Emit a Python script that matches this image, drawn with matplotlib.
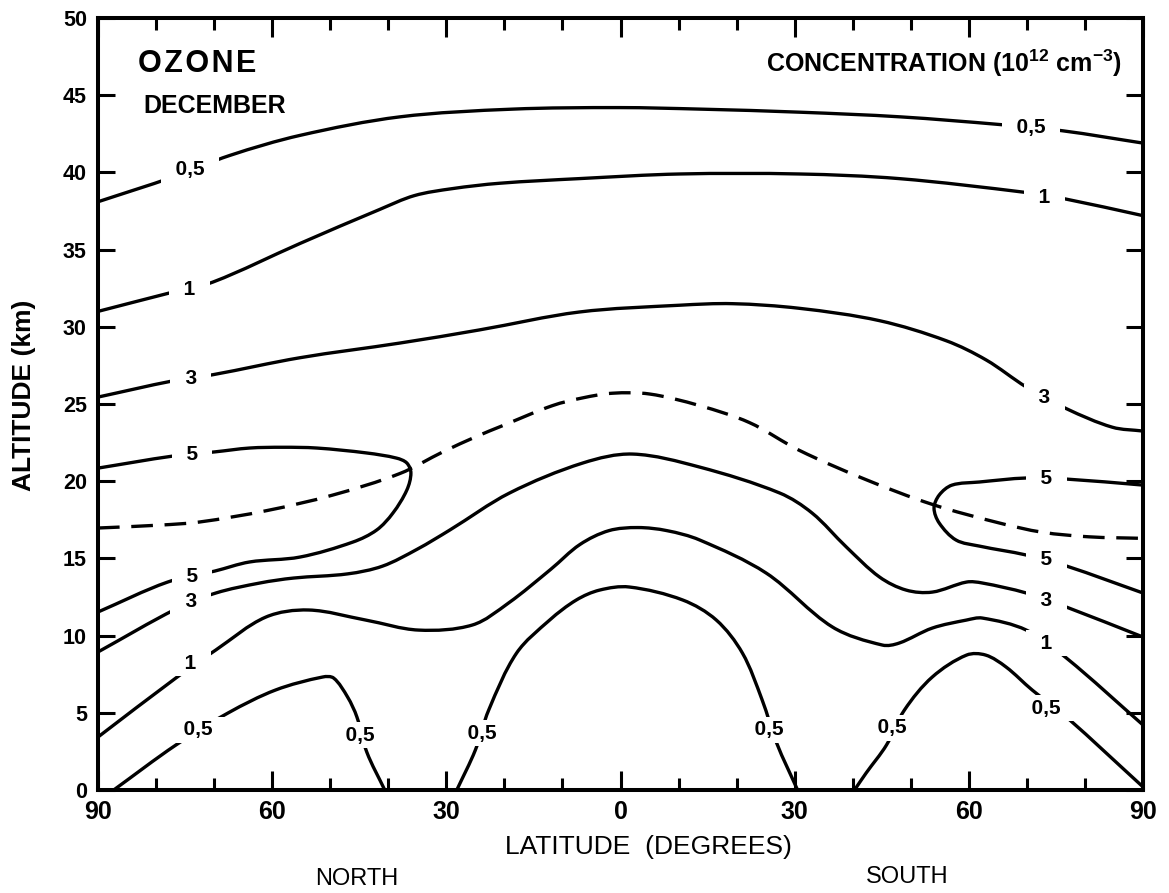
import numpy as np
import matplotlib
matplotlib.use("Agg")
import matplotlib.pyplot as plt
from matplotlib.path import Path
from matplotlib.patches import PathPatch

# Latitude axis runs from 90 N (left, -90) through the equator to 90 S (right, +90)
# Altitude in km. Each isoline is a traced curve of ozone concentration (1e12 cm^-3).

C05_TOP_LAT = [-90, -77.1, -67.3, -55.2, -38.0, -18.6, -0.2, 13.8, 31.0, 48.2, 65.4, 76.1, 90]
C05_TOP_ALT = [38.1, 39.7, 41.1, 42.4, 43.6, 44.1, 44.2, 44.1, 43.9, 43.6, 43.1, 42.7, 41.9]

C1_TOP_LAT = [-90, -77.1, -70.2, -55.2, -41.5, -35.5, -29.0, -20.8, -7.1, 10.2, 30.8, 48.0, 69.9,
              76.4, 90]
C1_TOP_ALT = [31.0, 32.25, 32.9, 35.4, 37.6, 38.5, 38.95, 39.3, 39.6, 39.9, 39.9, 39.6, 38.7,
              38.3, 37.2]

C3_TOP_LAT = [-90, -77.1, -70.2, -55.2, -38.0, -24.3, -7.1, 10.2, 19.3, 30.8, 44.6, 56.1, 63.0,
              69.9, 76.8, 84.7, 90]
C3_TOP_ALT = [25.45, 26.5, 26.9, 28.0, 28.95, 29.8, 30.96, 31.4, 31.5, 31.2, 30.4, 29.1, 27.85,
              26.1, 24.7, 23.5, 23.25]

TROPO_LAT = [-90, -79.3, -72.5, -60.9, -49.6, -38.0, -30.6, -24.8, -20.3, -11.7, -6.5, -1.4, 5.0,
             13.6, 22.2, 30.8, 42.3, 53.7, 65.2, 72.6, 80.7, 90]
TROPO_ALT = [16.97, 17.16, 17.36, 18.1, 19.1, 20.5, 21.9, 22.9, 23.6, 24.9, 25.4, 25.7, 25.65,
             24.9, 23.8, 22.0, 20.1, 18.5, 17.3, 16.7, 16.4, 16.3]

C5_NORTH_LAT = [-90, -78.0, -69.9, -63.9, -55.2, -46.1, -42.0, -39.2, -36.8, -36.1, -36.8, -38.6,
                -43.7, -52.3, -58.2, -63.9, -69.9, -77.1, -90]
C5_NORTH_ALT = [11.53, 13.47, 14.18, 14.77, 15.09, 16.06, 16.84, 17.94, 19.43, 20.53, 21.18, 21.5,
                21.83, 22.15, 22.2, 22.15, 21.9, 21.63, 20.85]

C5_SOUTH_LAT = [90, 76.8, 69.9, 61.8, 57.1, 54.9, 54.0, 54.9, 57.8, 61.8, 69.9, 76.8, 90]
C5_SOUTH_ALT = [19.75, 20.14, 20.21, 19.95, 19.75, 19.11, 18.26, 17.29, 16.19, 15.8, 15.22, 14.51, 12.76]

C3_LOW_LAT = [-90, -76.6, -69.7, -62.1, -56.3, -47.0, -41.0, -35.0, -29.4, -19.1, -6.5, 2.1, 13.6,
              27.4, 33.0, 38.9, 44.6, 49.2, 53.7, 59.6, 62.3, 69.9, 76.8, 90]
C3_LOW_ALT = [8.94, 11.72, 12.76, 13.41, 13.73, 14.0, 14.5, 15.6, 16.84, 19.24, 21.18, 21.76, 20.92,
              19.24, 17.94, 15.74, 13.80, 12.95, 12.82, 13.47, 13.41, 12.76, 11.85, 9.91]

C1_LOW_LAT = [-90, -76.6, -69.7, -61.1, -53.7, -43.9, -34.8, -25.5, -19.3, -12.0, -7.0, -2.0, 3.0,
              8.0, 13.6, 25.1, 36.5, 45.1, 48.0, 53.7, 59.6, 62.3, 69.9, 76.8, 90]
C1_LOW_ALT = [3.43, 7.25, 9.07, 11.2, 11.66, 11.01, 10.36, 10.69, 12.11, 14.3, 15.9, 16.8, 17.0,
              16.8, 16.2, 14.05, 10.56, 9.39, 9.52, 10.49, 11.01, 11.14, 10.36, 8.55, 4.21]

C05_NORTH_LAT = [-87.3, -76.6, -67.6, -59.4, -51.3, -49.4, -47.0, -45.4, -43.7, -40.6]
C05_NORTH_ALT = [0.0, 2.91, 4.99, 6.48, 7.32, 7.25, 6.02, 4.73, 2.46, 0.0]

C05_EQ_LAT = [-28.2, -25.0, -22.7, -17.9, -12.2, -7.6, -3.6, 1.5, 10.7, 16.5, 21.0, 24.4, 26.9, 30.5]
C05_EQ_ALT = [0.0, 2.59, 5.18, 8.87, 11.01, 12.31, 12.95, 13.15, 12.31, 11.01, 8.87, 5.83, 3.04, 0.0]

C05_SOUTH_LAT = [40.3, 42.3, 45.8, 48.9, 53.7, 59.6, 62.9, 66.4, 70.9, 76.8, 90]
C05_SOUTH_ALT = [0.0, 1.1, 2.91, 5.18, 7.32, 8.74, 8.74, 7.97, 6.48, 4.73, 0.2]

# Isoline labels: (text, latitude, altitude)
LABELS = [
    ("0,5", -74.2, 40.16), ("0,5", 70.7, 42.94),
    ("1", -74.2, 32.45), ("1", 73.0, 38.4),
    ("3", -74.0, 26.68), ("3", 73.0, 25.45),
    ("5", -73.8, 21.7), ("5", 73.3, 20.2),
    ("5", -73.8, 13.8), ("5", 73.3, 14.9),
    ("3", -74.0, 12.18), ("3", 73.3, 12.3),
    ("1", -74.0, 8.2), ("1", 73.3, 9.52),
    ("0,5", -72.8, 3.89), ("0,5", -44.9, 3.56), ("0,5", -23.9, 3.69),
    ("0,5", 25.6, 3.89), ("0,5", 46.8, 4.02), ("0,5", 73.3, 5.31),
]

X_TICKS = [-90, -60, -30, 0, 30, 60, 90]
X_TICK_LABELS = ["90", "60", "30", "0", "30", "60", "90"]
Y_TICKS = list(range(0, 51, 5))

FONT = ["Liberation Sans", "DejaVu Sans"]
plt.rcParams["font.family"] = FONT
plt.rcParams["mathtext.fontset"] = "custom"
plt.rcParams["mathtext.rm"] = "Liberation Sans:bold"
plt.rcParams["mathtext.bf"] = "Liberation Sans:bold"

fig = plt.figure(figsize=(11.69, 8.93), dpi=100)
ax = fig.add_axes([0.0838, 0.1153, 0.8940, 0.8645])
ax.set_xlim(-90, 90)
ax.set_ylim(0, 50)


def smooth_path(xs, ys):
    """Hermite curve through the traced points with chord-length tangents."""
    pts = np.column_stack([xs, ys]).astype(float)
    disp = ax.transData.transform(pts)
    d = np.hypot(*np.diff(disp, axis=0).T)
    n = len(pts)
    tang = np.zeros_like(pts)
    tang[0] = (pts[1] - pts[0]) / d[0]
    tang[-1] = (pts[-1] - pts[-2]) / d[-1]
    for i in range(1, n - 1):
        tang[i] = (pts[i + 1] - pts[i - 1]) / (d[i - 1] + d[i])
    verts = [pts[0]]
    codes = [Path.MOVETO]
    for i in range(n - 1):
        verts += [pts[i] + tang[i] * d[i] / 3.0, pts[i + 1] - tang[i + 1] * d[i] / 3.0, pts[i + 1]]
        codes += [Path.CURVE4] * 3
    return Path(verts, codes)


LW = 2.4
solid = [
    (C05_TOP_LAT, C05_TOP_ALT), (C1_TOP_LAT, C1_TOP_ALT), (C3_TOP_LAT, C3_TOP_ALT),
    (C5_NORTH_LAT, C5_NORTH_ALT), (C5_SOUTH_LAT, C5_SOUTH_ALT),
    (C3_LOW_LAT, C3_LOW_ALT), (C1_LOW_LAT, C1_LOW_ALT),
    (C05_NORTH_LAT, C05_NORTH_ALT), (C05_EQ_LAT, C05_EQ_ALT), (C05_SOUTH_LAT, C05_SOUTH_ALT),
]
for lat, alt in solid:
    ax.add_patch(PathPatch(smooth_path(lat, alt), fill=False, edgecolor="black",
                           linewidth=LW, capstyle="butt", joinstyle="round", zorder=3))

ax.add_patch(PathPatch(smooth_path(TROPO_LAT, TROPO_ALT), fill=False, edgecolor="black",
                       linewidth=LW, linestyle=(0, (6.5, 3.5)), zorder=3))

for text, lat, alt in LABELS:
    ax.text(lat, alt, "  " + text + "  ", ha="center", va="center", fontsize=15,
            fontweight="bold", zorder=5,
            bbox=dict(boxstyle="square,pad=0.15", fc="white", ec="none"))

# axes frame and ticks
for sp in ax.spines.values():
    sp.set_linewidth(2.9)
    sp.set_zorder(6)
ax.set_xticks(X_TICKS)
ax.set_xticklabels(X_TICK_LABELS)
ax.set_xticks(np.arange(-80, 90, 10), minor=True)
ax.set_yticks(Y_TICKS)
ax.tick_params(axis="x", which="major", direction="in", top=True, bottom=True,
               length=13.5, width=2.2, pad=7, labelsize=18)
ax.tick_params(axis="x", which="minor", direction="in", top=True, bottom=True,
               length=8.5, width=2.2)
ax.tick_params(axis="y", which="major", direction="in", left=True, right=True,
               length=12.5, width=2.2, pad=8, labelsize=15.5)
for lab in ax.get_xticklabels() + ax.get_yticklabels():
    lab.set_fontweight("bold")

# annotations
fig.text(0.118, 0.9194, "O\u200aZ\u200aO\u200aN\u200aE", fontsize=22, fontweight="bold",
         ha="left", va="baseline")
fig.text(0.1223, 0.8735, "DECEMBER", fontsize=18, fontweight="bold", ha="left", va="baseline")
fig.text(0.9598, 0.9194, r"CONCENTRATION (10$^{12}$ cm$^{-3}$)", fontsize=18,
         fontweight="bold", ha="right", va="baseline")
fig.text(0.0205, 0.5577, "ALTITUDE (km)", fontsize=19, fontweight="bold", rotation=90,
         ha="center", va="center")
fig.text(0.5543, 0.0515, "LATITUDE  (DEGREES)", fontsize=19, ha="center", va="center")
fig.text(0.3054, 0.0157, "NORTH", fontsize=17, ha="center", va="center")
fig.text(0.7759, 0.0179, "SOUTH", fontsize=17, ha="center", va="center")

fig.savefig("out.png", dpi=100, facecolor="white")
